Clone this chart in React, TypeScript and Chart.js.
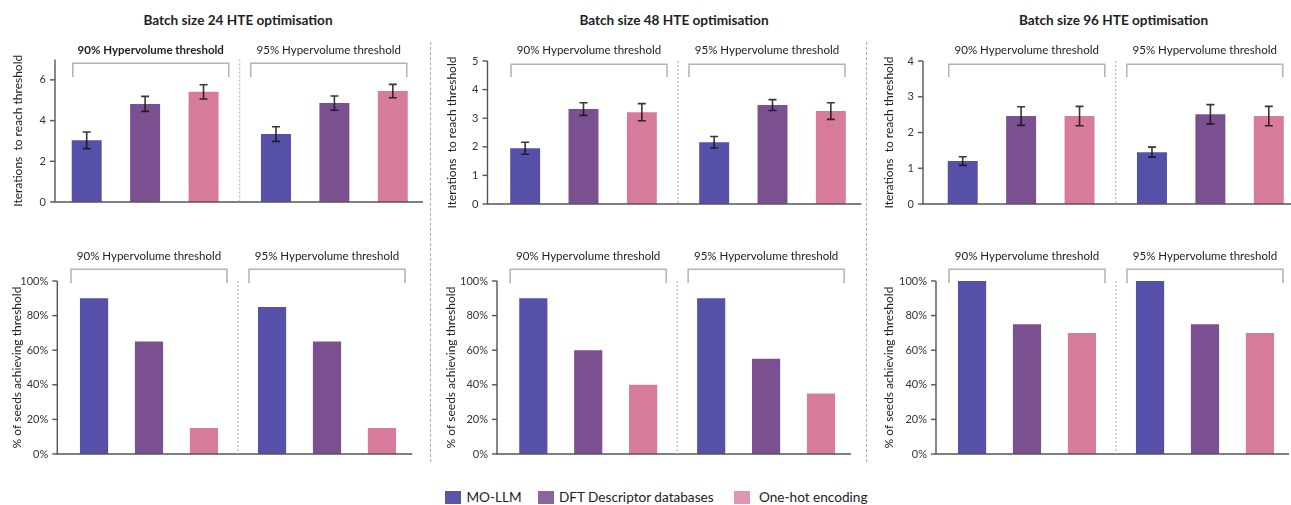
import React, { useEffect, useRef } from "react";
import { Chart, registerables } from "chart.js";

Chart.register(...registerables);

const FONT = "Lato, 'Noto Sans', sans-serif";

// ---------- data ----------
const thresholds = ["90% Hypervolume threshold", "95% Hypervolume threshold"];
const methods = ["MO-LLM", "DFT Descriptor databases", "One-hot encoding"];
const batchTitles = [
  "Batch size 24 HTE optimisation",
  "Batch size 48 HTE optimisation",
  "Batch size 96 HTE optimisation",
];
const iterTitle = "Iterations  to reach threshold";
const seedTitle = "% of seeds achieving threshold";

// iterations to reach threshold (mean), [90%, 95%]
const iter24MoLlm = [3.03, 3.34];
const iter24Dft = [4.82, 4.86];
const iter24OneHot = [5.41, 5.45];
const err24MoLlm = [0.41, 0.36];
const err24Dft = [0.37, 0.35];
const err24OneHot = [0.35, 0.33];

const iter48MoLlm = [1.95, 2.16];
const iter48Dft = [3.32, 3.46];
const iter48OneHot = [3.21, 3.25];
const err48MoLlm = [0.21, 0.2];
const err48Dft = [0.22, 0.19];
const err48OneHot = [0.3, 0.29];

const iter96MoLlm = [1.2, 1.45];
const iter96Dft = [2.46, 2.51];
const iter96OneHot = [2.46, 2.46];
const err96MoLlm = [0.12, 0.14];
const err96Dft = [0.26, 0.27];
const err96OneHot = [0.27, 0.27];

// % of seeds achieving threshold, [90%, 95%]
const seeds24MoLlm = [90, 85];
const seeds24Dft = [65, 65];
const seeds24OneHot = [15, 15];
const seeds48MoLlm = [90, 90];
const seeds48Dft = [60, 55];
const seeds48OneHot = [40, 35];
const seeds96MoLlm = [100, 100];
const seeds96Dft = [75, 75];
const seeds96OneHot = [70, 70];

// axis ranges
const iter24Max = 7;
const iter24Step = 2;
const iter48Max = 5;
const iter48Step = 1;
const iter96Max = 4;
const iter96Step = 1;
const seedsMax = 100;
const seedsStep = 20;

// ---------- styles ----------
const barColors = ["#5650a8", "#7a5090", "#d77b9c"];
const legendColors = ["#5a54ab", "#8a63a1", "#e096b2"];

type PanelSpec = {
  canvasLeft: number;
  canvasTop: number;
  axisX: number;
  axisEnd: number;
  mid: number;
  catW: number;
  top: number;
  bottom: number;
  bracketTop: number;
  bracketBottom: number;
  labelY: number;
  yMax: number;
  yStep: number;
  percent: boolean;
  yTitle: string;
  series: number[][];
  errors?: number[][];
  boldFirst?: boolean;
};

const topRow = { canvasTop: 32, top: 61, bottom: 203.7, bracketTop: 64.3, bracketBottom: 77, labelY: 50 };
const botRow = { canvasTop: 243, top: 281, bottom: 454, bracketTop: 269.3, bracketBottom: 283.3, labelY: 256 };

const panels: PanelSpec[] = [
  {
    ...topRow, top: 59.5, bottom: 202, bracketTop: 63.3,
    canvasLeft: 8, axisX: 55, axisEnd: 423, mid: 239.5, catW: 189,
    yMax: iter24Max, yStep: iter24Step, percent: false, yTitle: iterTitle,
    series: [iter24MoLlm, iter24Dft, iter24OneHot],
    errors: [err24MoLlm, err24Dft, err24OneHot], boldFirst: true,
  },
  {
    ...topRow,
    canvasLeft: 441.5, axisX: 487, axisEnd: 861, mid: 677.5, catW: 189,
    yMax: iter48Max, yStep: iter48Step, percent: false, yTitle: iterTitle,
    series: [iter48MoLlm, iter48Dft, iter48OneHot],
    errors: [err48MoLlm, err48Dft, err48OneHot],
  },
  {
    ...topRow,
    canvasLeft: 879, axisX: 923, axisEnd: 1291, mid: 1115.5, catW: 189,
    yMax: iter96Max, yStep: iter96Step, percent: false, yTitle: iterTitle,
    series: [iter96MoLlm, iter96Dft, iter96OneHot],
    errors: [err96MoLlm, err96Dft, err96OneHot],
  },
  {
    ...botRow,
    canvasLeft: 7, axisX: 57.3, axisEnd: 412.3, mid: 238, catW: 178,
    yMax: seedsMax, yStep: seedsStep, percent: true, yTitle: seedTitle,
    series: [seeds24MoLlm, seeds24Dft, seeds24OneHot],
  },
  {
    ...botRow,
    canvasLeft: 440.7, axisX: 496.7, axisEnd: 850.7, mid: 677, catW: 178,
    yMax: seedsMax, yStep: seedsStep, percent: true, yTitle: seedTitle,
    series: [seeds48MoLlm, seeds48Dft, seeds48OneHot],
  },
  {
    ...botRow,
    canvasLeft: 879, axisX: 936, axisEnd: 1289, mid: 1116, catW: 178,
    yMax: seedsMax, yStep: seedsStep, percent: true, yTitle: seedTitle,
    series: [seeds96MoLlm, seeds96Dft, seeds96OneHot],
  },
];

function Panel({ spec }: { spec: PanelSpec }) {
  const ref = useRef<HTMLCanvasElement | null>(null);
  const plotLeft = spec.mid - spec.catW;
  const plotRight = spec.mid + spec.catW;
  const canvasRight = Math.max(spec.axisEnd, plotRight) + 4;
  const canvasBottom = spec.bottom + 28;
  const width = Math.round(canvasRight - spec.canvasLeft);
  const height = Math.round(canvasBottom - spec.canvasTop);

  useEffect(() => {
    if (!ref.current) return;
    const cl = spec.canvasLeft;
    const ct = spec.canvasTop;
    const decor = {
      id: "decor",
      afterDatasetsDraw(chart: any) {
        const ctx = chart.ctx as CanvasRenderingContext2D;
        const xs = chart.scales.x;
        const ys = chart.scales.y;
        const y0 = ys.getPixelForValue(0);
        const yT = ys.getPixelForValue(spec.yMax);
        const ax = spec.axisX - cl;
        const aEnd = spec.axisEnd - cl;
        ctx.save();
        // error bars
        if (spec.errors) {
          ctx.strokeStyle = "rgba(20,20,20,0.85)";
          ctx.lineWidth = 1.6;
          spec.series.forEach((vals, di) => {
            const meta = chart.getDatasetMeta(di);
            vals.forEach((v, j) => {
              const e = spec.errors![di][j];
              const x = meta.data[j].x;
              const yh = ys.getPixelForValue(v + e);
              const yl = ys.getPixelForValue(v - e);
              ctx.beginPath();
              ctx.moveTo(x, yh);
              ctx.lineTo(x, yl);
              ctx.moveTo(x - 4, yh);
              ctx.lineTo(x + 4, yh);
              ctx.moveTo(x - 4, yl);
              ctx.lineTo(x + 4, yl);
              ctx.stroke();
            });
          });
        }
        // axes
        ctx.strokeStyle = "#555";
        ctx.lineWidth = 1.4;
        ctx.beginPath();
        ctx.moveTo(ax, yT);
        ctx.lineTo(ax, y0);
        ctx.lineTo(aEnd, y0);
        ctx.stroke();
        ys.ticks.forEach((t: any) => {
          const y = ys.getPixelForValue(t.value);
          ctx.beginPath();
          ctx.moveTo(ax - 5, y);
          ctx.lineTo(ax, y);
          ctx.stroke();
        });
        // group separator
        const mid = (xs.getPixelForValue(0) + xs.getPixelForValue(1)) / 2;
        ctx.strokeStyle = "#aaa";
        ctx.lineWidth = 1;
        ctx.setLineDash([2, 2]);
        ctx.beginPath();
        ctx.moveTo(mid, yT);
        ctx.lineTo(mid, y0);
        ctx.stroke();
        ctx.setLineDash([]);
        // brackets + labels
        const bt = spec.bracketTop - ct;
        const bb = spec.bracketBottom - ct;
        thresholds.forEach((label, g) => {
          const x1 = g === 0 ? mid - 167 : mid + 11;
          const x2 = g === 0 ? mid - 11 : mid + 167;
          ctx.strokeStyle = "#b3b3b3";
          ctx.lineWidth = 1.5;
          ctx.beginPath();
          ctx.moveTo(x1, bb);
          ctx.lineTo(x1, bt);
          ctx.lineTo(x2, bt);
          ctx.lineTo(x2, bb);
          ctx.stroke();
          ctx.fillStyle = "#222";
          ctx.font = `${spec.boldFirst && g === 0 ? "bold " : ""}11.5px ${FONT}`;
          ctx.textAlign = "center";
          ctx.textBaseline = "middle";
          ctx.fillText(label, (x1 + x2) / 2, spec.labelY - ct);
        });
        ctx.restore();
      },
    };

    const chart = new Chart(ref.current, {
      type: "bar",
      data: {
        labels: thresholds,
        datasets: spec.series.map((vals, i) => ({
          label: methods[i],
          data: vals,
          backgroundColor: barColors[i],
          borderWidth: 0,
          categoryPercentage: 0.926,
          barPercentage: 0.513,
        })),
      },
      options: {
        animation: false,
        responsive: false,
        maintainAspectRatio: false,
        layout: {
          padding: {
            left: 0,
            top: spec.top - ct,
            right: canvasRight - plotRight,
            bottom: canvasBottom - spec.bottom,
          },
        },
        plugins: { legend: { display: false }, tooltip: { enabled: false } },
        scales: {
          x: { display: false, offset: true },
          y: {
            min: 0,
            max: spec.yMax,
            afterFit: (s: any) => {
              s.width = plotLeft - cl;
            },
            grid: { display: false, drawTicks: false },
            border: { display: false },
            ticks: {
              stepSize: spec.yStep,
              includeBounds: false,
              padding: plotLeft - (spec.axisX - 9),
              color: "#333",
              font: { family: FONT, size: 11 },
              callback: (v: any) => (spec.percent ? `${v}%` : `${v}`),
            },
            title: {
              display: true,
              text: spec.yTitle,
              color: "#222",
              font: { family: FONT, size: 12 },
              padding: { top: 2.8, bottom: 0 },
            },
          },
        },
      },
      plugins: [decor],
    } as any);
    return () => chart.destroy();
  }, [spec]);

  return (
    <canvas
      ref={ref}
      width={width}
      height={height}
      style={{ position: "absolute", left: spec.canvasLeft, top: spec.canvasTop, width, height }}
    />
  );
}

const titleCenters = [238, 674, 1113.5];
const colSeparators = [429.5, 866];
const legendSwatchX = [445, 537.5, 734];
const legendTextX = [466.5, 559, 759];

export default function App() {
  return (
    <div
      style={{
        position: "fixed",
        left: 0,
        top: 0,
        width: 1291,
        height: 505,
        overflow: "hidden",
        background: "#fff",
        fontFamily: FONT,
      }}
    >
      {batchTitles.map((t, i) => (
        <div
          key={t}
          style={{
            position: "absolute",
            left: titleCenters[i] - 150,
            width: 300,
            top: 11,
            textAlign: "center",
            fontWeight: 700,
            fontSize: 13.6,
            color: "#222",
            lineHeight: "18px",
          }}
        >
          {t}
        </div>
      ))}
      {colSeparators.map((x) => (
        <div
          key={x}
          style={{
            position: "absolute",
            left: x,
            top: 42,
            height: 420,
            width: 0,
            borderLeft: "1px dashed #aaa",
          }}
        />
      ))}
      {panels.map((p, i) => (
        <Panel key={i} spec={p} />
      ))}
      {methods.map((m, i) => (
        <React.Fragment key={m}>
          <div
            style={{
              position: "absolute",
              left: legendSwatchX[i],
              top: 490.5,
              width: 16,
              height: 13,
              background: legendColors[i],
            }}
          />
          <div
            style={{
              position: "absolute",
              left: legendTextX[i],
              top: 488,
              fontSize: 13.6,
              lineHeight: "18px",
              color: "#222",
              whiteSpace: "nowrap",
            }}
          >
            {m}
          </div>
        </React.Fragment>
      ))}
    </div>
  );
}
